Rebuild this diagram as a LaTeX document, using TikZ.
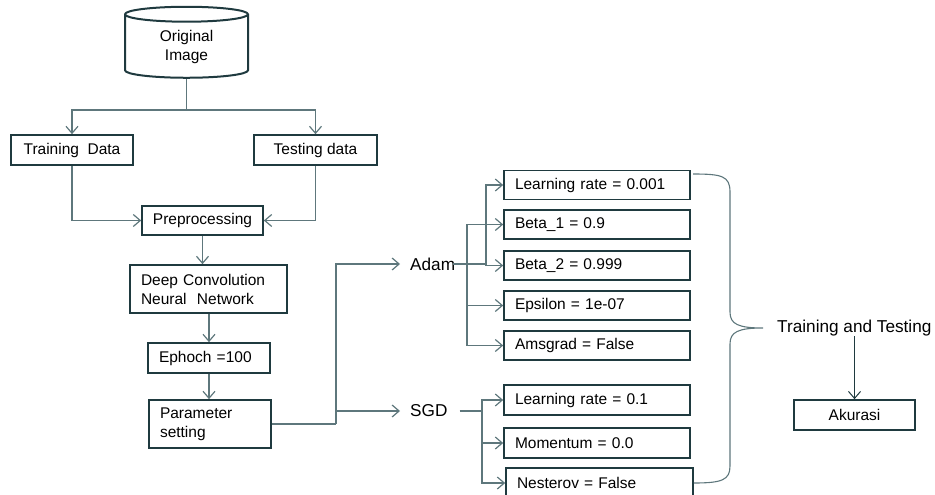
\documentclass[tikz,border=0pt]{standalone}
\usepackage{fontspec}
\setmainfont{Liberation Sans}
\usepackage{tikz}
\usetikzlibrary{arrows.meta,shapes.geometric}
\definecolor{garis}{HTML}{1F3A3F}
\definecolor{panah}{HTML}{5E777C}

\begin{document}
\begin{tikzpicture}[x=1pt,y=-1pt,font=\fontsize{15.5}{19}\selectfont,
        kotak/.style={rectangle,draw=garis,line width=1.6pt,minimum height=30pt,inner sep=0pt},
        kiri/.style={kotak,align=left,inner xsep=11pt},
        teks/.style={inner sep=0pt,anchor=west,font=\fontsize{17.2}{20}\selectfont},
        alur/.style={draw=panah,line width=1.2pt,-{Straight Barb[length=7pt,width=12pt]}},
        garisan/.style={draw=panah,line width=1.2pt}]
      \useasboundingbox (0,0) rectangle (935,495);
      % sumber data
      \node [cylinder,shape border rotate=90,draw=garis,line width=2pt,aspect=0.28,
             minimum width=123pt,minimum height=71pt,align=center,inner sep=0pt] (orig) at (186.5,46.5) {Original\\Image};
      \node [kotak,minimum width=122pt] (train) at (72,150) {Training\ \ Data};
      \node [kotak,minimum width=123pt] (test)  at (315.5,150) {Testing data};
      \node [kotak,minimum width=121pt,minimum height=29pt] (prep) at (202.5,220.5) {Preprocessing};
      \node [kiri,text width=135pt,minimum height=48pt] (dcnn) at (208.5,289) {Deep Convolution\\Neural\ \ Network};
      \node [kiri,text width=100pt] (epoch) at (209,358) {Ephoch =100};
      \node [kiri,text width=100pt,minimum height=48pt] (param) at (210,424) {Parameter\\setting};
      % optimizer
      \node [teks] (adam) at (410,264) {Adam};
      \node [teks] (sgd)  at (410,411) {SGD};
      \node [kiri,text width=164pt,minimum height=29pt] (lr1)  at (597,185)   {Learning rate = 0.001};
      \node [kiri,text width=164pt,minimum height=29pt] (b1)   at (597,224.5) {Beta\_1 = 0.9};
      \node [kiri,text width=164pt,minimum height=29pt] (b2)   at (597,265.5) {Beta\_2 = 0.999};
      \node [kiri,text width=164pt,minimum height=29pt] (eps)  at (597,305.5) {Epsilon = 1e-07};
      \node [kiri,text width=164pt,minimum height=29pt] (ams)  at (597,345.5) {Amsgrad = False};
      \node [kiri,text width=164pt] (lr2)  at (597,400) {Learning rate = 0.1};
      \node [kiri,text width=164pt] (mom)  at (597,443) {Momentum = 0.0};
      \node [kiri,text width=165pt] (nest) at (599.5,483) {Nesterov = False};
      % hasil
      \node [teks] (tt) at (777,328) {Training and Testing};
      \node [kotak,minimum width=121pt] (aku) at (854.5,415) {Akurasi};

      \coordinate (pisah) at (186.5,110);
      \coordinate (cabang) at (336,424);
      \coordinate (a1) at (486,264);
      \coordinate (a2) at (467,264);
      \coordinate (s1) at (482,411);
      \coordinate (atas) at (693,174);
      \coordinate (ujung) at (763,328);

      \path[garisan] (orig) -- (pisah);
      \path[alur] (pisah) -| (train);
      \path[alur] (pisah) -| (test);
      \path[alur] (train) |- (prep);
      \path[alur] (test) |- (prep);
      \path[alur] (prep.south) -- (prep.south |- dcnn.north);
      \path[alur] (dcnn.south -| epoch.north) -- (epoch.north);
      \path[alur] (epoch.south) -- (epoch.south |- param.north);
      \path[garisan] (param) -- (cabang);
      \path[alur,shorten >=10pt] (cabang) |- (adam);
      \path[alur,shorten >=10pt] (cabang) |- (sgd);
      \path[garisan] ([xshift=-2pt]adam.east) -- (a1);
      \path[alur] (a1) |- (lr1);
      \path[alur] (a1) |- (b2);
      \path[alur] (a2) |- (b1);
      \path[alur] (a2) |- (eps);
      \path[alur] (a2) |- (ams);
      \path[garisan,shorten <=12pt] (sgd.east) -- (s1);
      \path[alur] (s1) |- (lr2);
      \path[alur] (s1) |- (mom);
      \path[alur] (s1) |- (nest);
      % kurung kurawal
      \path[draw=panah,line width=1.1pt] (atas) .. controls (722,174) and (730,176) .. (730,192)
        -- (730,312) .. controls (730,324) and (738,328) .. (ujung)
        .. controls (738,328) and (730,332) .. (730,344)
        -- (730,466) .. controls (730,480) and (722,483) .. (nest.east);
      \path[alur,draw=garis,line width=1pt] (tt.south -| aku.north) -- (aku.north);
    \end{tikzpicture}
\end{document}
